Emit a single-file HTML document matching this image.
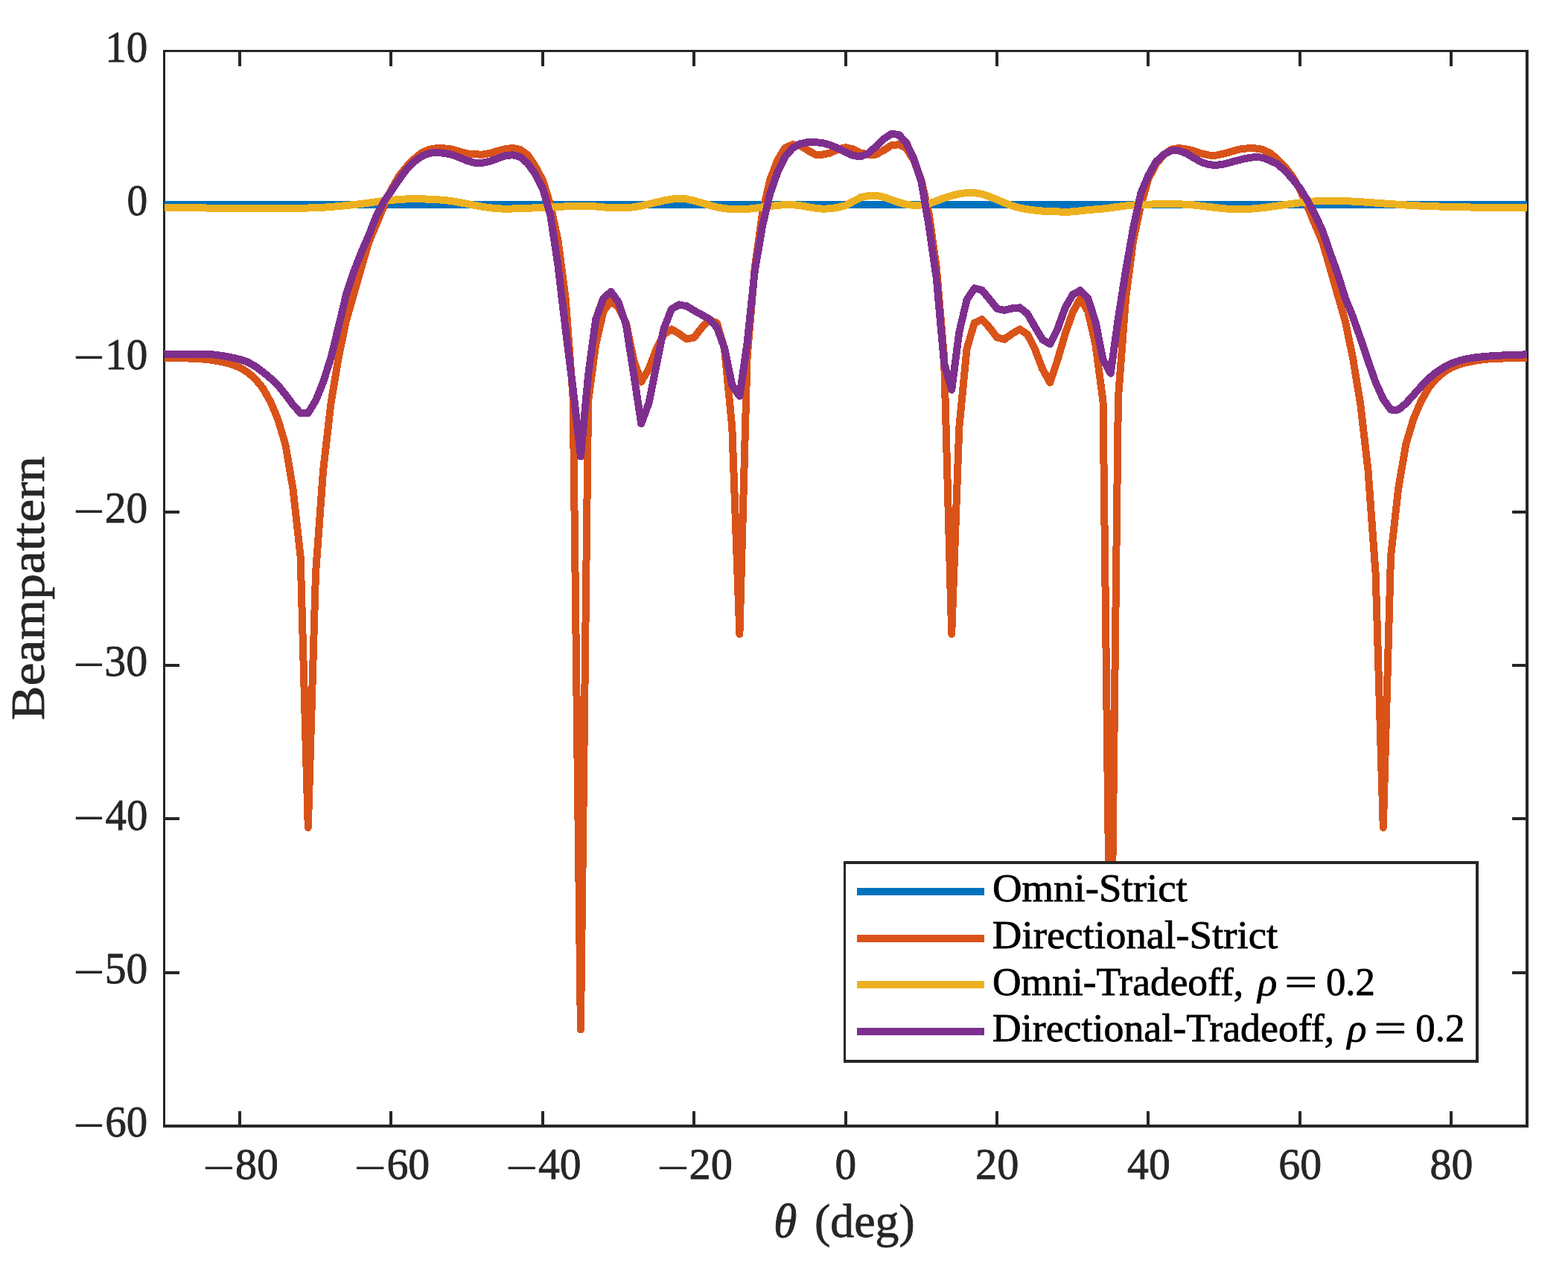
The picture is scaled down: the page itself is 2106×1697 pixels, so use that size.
<!DOCTYPE html>
<html lang="en"><head><meta charset="utf-8"><title>Beampattern</title>
<style>
html,body{margin:0;padding:0;background:#fff;}
body{width:2106px;height:1697px;overflow:hidden;}
svg{display:block;}
text{font-family:"Liberation Serif", "DejaVu Serif", serif;fill:#262626;}
.curve{fill:none;stroke-width:10.0;stroke-linejoin:round;stroke-linecap:butt;}
.ax rect{fill:#262626;}
</style></head><body>
<svg xmlns="http://www.w3.org/2000/svg" width="2106" height="1697" viewBox="0 0 2106 1697">
<rect x="0" y="0" width="2106" height="1697" fill="#ffffff"/>
<defs><clipPath id="clip"><rect x="220" y="70" width="1831" height="1441"/></clipPath></defs>

<g class="ax" shape-rendering="crispEdges">
<rect x="219" y="67" width="3" height="1448"/>
<rect x="2049" y="67" width="4" height="1448"/>
<rect x="219" y="67" width="1834" height="3"/>
<rect x="219" y="1511" width="1834" height="4"/>
<rect x="320" y="1493" width="4" height="22"/>
<rect x="320" y="67" width="4" height="22"/>
<rect x="523" y="1493" width="4" height="22"/>
<rect x="523" y="67" width="4" height="22"/>
<rect x="727" y="1493" width="4" height="22"/>
<rect x="727" y="67" width="4" height="22"/>
<rect x="930" y="1493" width="4" height="22"/>
<rect x="930" y="67" width="4" height="22"/>
<rect x="1134" y="1493" width="4" height="22"/>
<rect x="1134" y="67" width="4" height="22"/>
<rect x="1337" y="1493" width="4" height="22"/>
<rect x="1337" y="67" width="4" height="22"/>
<rect x="1540" y="1493" width="4" height="22"/>
<rect x="1540" y="67" width="4" height="22"/>
<rect x="1744" y="1493" width="4" height="22"/>
<rect x="1744" y="67" width="4" height="22"/>
<rect x="1947" y="1493" width="4" height="22"/>
<rect x="1947" y="67" width="4" height="22"/>
<rect x="219" y="1305" width="22" height="4"/>
<rect x="2031" y="1305" width="22" height="4"/>
<rect x="219" y="1098" width="22" height="4"/>
<rect x="2031" y="1098" width="22" height="4"/>
<rect x="219" y="892" width="22" height="4"/>
<rect x="2031" y="892" width="22" height="4"/>
<rect x="219" y="686" width="22" height="4"/>
<rect x="2031" y="686" width="22" height="4"/>
<rect x="219" y="479" width="22" height="4"/>
<rect x="2031" y="479" width="22" height="4"/>
<rect x="219" y="273" width="22" height="4"/>
<rect x="2031" y="273" width="22" height="4"/>
</g>
<g clip-path="url(#clip)" shape-rendering="crispEdges">
<polyline class="curve" stroke="#0072BD" points="220.6,275.1 230.8,275.1 240.9,275.1 251.1,275.1 261.3,275.1 271.4,275.1 281.6,275.1 291.8,275.1 302.0,275.1 312.1,275.1 322.3,275.1 332.5,275.1 342.6,275.1 352.8,275.1 363.0,275.1 373.1,275.1 383.3,275.1 393.5,275.1 403.6,275.1 413.8,275.1 424.0,275.1 434.1,275.1 444.3,275.1 454.5,275.1 464.7,275.1 474.8,275.1 485.0,275.1 495.2,275.1 505.3,275.1 515.5,275.1 525.7,275.1 535.8,275.1 546.0,275.1 556.2,275.1 566.3,275.1 576.5,275.1 586.7,275.1 596.8,275.1 607.0,275.1 617.2,275.1 627.4,275.1 637.5,275.1 647.7,275.1 657.9,275.1 668.0,275.1 678.2,275.1 688.4,275.1 698.5,275.1 708.7,275.1 718.9,275.1 729.0,275.1 739.2,275.1 749.4,275.1 759.6,275.1 769.7,275.1 779.9,275.1 790.1,275.1 800.2,275.1 810.4,275.1 820.6,275.1 830.7,275.1 840.9,275.1 851.1,275.1 861.2,275.1 871.4,275.1 881.6,275.1 891.7,275.1 901.9,275.1 912.1,275.1 922.3,275.1 932.4,275.1 942.6,275.1 952.8,275.1 962.9,275.1 973.1,275.1 983.3,275.1 993.4,275.1 1003.6,275.1 1013.8,275.1 1023.9,275.1 1034.1,275.1 1044.3,275.1 1054.4,275.1 1064.6,275.1 1074.8,275.1 1085.0,275.1 1095.1,275.1 1105.3,275.1 1115.5,275.1 1125.6,275.1 1135.8,275.1 1146.0,275.1 1156.1,275.1 1166.3,275.1 1176.5,275.1 1186.6,275.1 1196.8,275.1 1207.0,275.1 1217.2,275.1 1227.3,275.1 1237.5,275.1 1247.7,275.1 1257.8,275.1 1268.0,275.1 1278.2,275.1 1288.3,275.1 1298.5,275.1 1308.7,275.1 1318.8,275.1 1329.0,275.1 1339.2,275.1 1349.3,275.1 1359.5,275.1 1369.7,275.1 1379.9,275.1 1390.0,275.1 1400.2,275.1 1410.4,275.1 1420.5,275.1 1430.7,275.1 1440.9,275.1 1451.0,275.1 1461.2,275.1 1471.4,275.1 1481.5,275.1 1491.7,275.1 1501.9,275.1 1512.0,275.1 1522.2,275.1 1532.4,275.1 1542.6,275.1 1552.7,275.1 1562.9,275.1 1573.1,275.1 1583.2,275.1 1593.4,275.1 1603.6,275.1 1613.7,275.1 1623.9,275.1 1634.1,275.1 1644.2,275.1 1654.4,275.1 1664.6,275.1 1674.8,275.1 1684.9,275.1 1695.1,275.1 1705.3,275.1 1715.4,275.1 1725.6,275.1 1735.8,275.1 1745.9,275.1 1756.1,275.1 1766.3,275.1 1776.4,275.1 1786.6,275.1 1796.8,275.1 1806.9,275.1 1817.1,275.1 1827.3,275.1 1837.5,275.1 1847.6,275.1 1857.8,275.1 1868.0,275.1 1878.1,275.1 1888.3,275.1 1898.5,275.1 1908.6,275.1 1918.8,275.1 1929.0,275.1 1939.1,275.1 1949.3,275.1 1959.5,275.1 1969.6,275.1 1979.8,275.1 1990.0,275.1 2000.2,275.1 2010.3,275.1 2020.5,275.1 2030.7,275.1 2040.8,275.1 2051.0,275.1"/>
<polyline class="curve" stroke="#D95319" points="220.6,480.8 230.8,480.9 240.9,481.1 251.1,481.4 261.3,481.9 271.4,482.4 281.6,483.4 291.8,485.0 302.0,487.0 312.1,489.8 322.3,493.8 332.5,500.2 342.6,508.8 352.8,521.2 363.0,539.2 373.1,562.9 383.3,596.9 393.5,656.8 403.6,747.5 413.8,1112.0 424.0,770.2 434.1,632.0 444.3,543.3 454.5,481.4 464.7,431.9 474.8,396.8 485.0,360.9 495.2,325.6 505.3,301.9 515.5,277.2 525.7,254.5 535.8,236.9 546.0,224.1 556.2,213.6 566.3,205.4 576.5,200.8 586.7,199.2 596.8,199.4 607.0,200.6 617.2,203.5 627.4,206.4 637.5,207.4 647.7,207.6 657.9,206.0 668.0,202.9 678.2,200.4 688.4,199.0 698.5,200.8 708.7,208.1 718.9,223.5 729.0,242.1 739.2,275.1 749.4,322.5 759.6,400.9 769.7,535.0 779.9,1383.5 790.1,539.2 800.2,462.8 810.4,418.5 820.6,404.0 830.7,413.3 840.9,434.0 851.1,483.5 861.2,513.0 871.4,495.8 881.6,469.0 891.7,449.2 901.9,442.4 912.1,448.4 922.3,455.6 932.4,453.5 942.6,440.1 952.8,429.8 962.9,434.0 973.1,469.0 983.3,574.2 993.4,851.9 1003.6,479.3 1013.8,359.7 1023.9,287.5 1034.1,242.1 1044.3,215.3 1054.4,198.8 1064.6,194.2 1074.8,195.5 1085.0,202.1 1095.1,207.6 1105.3,207.6 1115.5,205.4 1125.6,200.4 1135.8,198.2 1146.0,200.4 1156.1,205.4 1166.3,207.6 1176.5,207.6 1186.6,202.1 1196.8,195.5 1207.0,194.2 1217.2,198.8 1227.3,215.3 1237.5,242.1 1247.7,287.5 1257.8,359.7 1268.0,479.3 1278.2,851.9 1288.3,574.2 1298.5,469.0 1308.7,434.0 1318.8,429.0 1329.0,440.1 1339.2,453.5 1349.3,455.8 1359.5,448.4 1369.7,442.4 1379.9,449.2 1390.0,469.0 1400.2,495.8 1410.4,514.0 1420.5,483.5 1430.7,448.4 1440.9,419.5 1451.0,400.9 1461.2,418.5 1471.4,462.8 1481.5,539.2 1491.7,1383.5 1501.9,535.0 1512.0,400.9 1522.2,322.5 1532.4,275.1 1542.6,240.0 1552.7,220.4 1562.9,208.1 1573.1,200.8 1583.2,199.0 1593.4,200.4 1603.6,202.9 1613.7,206.4 1623.9,208.5 1634.1,208.5 1644.2,206.4 1654.4,203.5 1664.6,200.6 1674.8,199.4 1684.9,199.2 1695.1,200.8 1705.3,205.4 1715.4,213.6 1725.6,224.1 1735.8,236.9 1745.9,254.5 1756.1,277.2 1766.3,301.9 1776.4,325.6 1786.6,360.9 1796.8,396.8 1806.9,431.9 1817.1,481.4 1827.3,543.3 1837.5,632.0 1847.6,770.2 1857.8,1112.0 1868.0,747.5 1878.1,656.8 1888.3,596.9 1898.5,562.9 1908.6,539.2 1918.8,521.2 1929.0,508.8 1939.1,500.2 1949.3,493.8 1959.5,489.8 1969.6,487.0 1979.8,485.0 1990.0,483.4 2000.2,482.4 2010.3,481.9 2020.5,481.4 2030.7,481.1 2040.8,480.9 2051.0,480.8"/>
<polyline class="curve" stroke="#EDB120" points="220.6,279.0 230.8,279.1 240.9,279.2 251.1,279.2 261.3,279.3 271.4,279.4 281.6,279.6 291.8,279.7 302.0,279.8 312.1,280.0 322.3,280.1 332.5,280.1 342.6,280.2 352.8,280.2 363.0,280.2 373.1,280.3 383.3,280.2 393.5,280.1 403.6,279.8 413.8,279.5 424.0,279.2 434.1,278.7 444.3,278.0 454.5,277.1 464.7,276.1 474.8,275.1 485.0,274.0 495.2,272.6 505.3,271.2 515.5,269.9 525.7,268.9 535.8,268.1 546.0,267.4 556.2,267.1 566.3,267.3 576.5,267.7 586.7,268.2 596.8,268.9 607.0,270.2 617.2,272.0 627.4,273.9 637.5,275.8 647.7,277.8 657.9,279.2 668.0,280.2 678.2,280.7 688.4,280.5 698.5,280.3 708.7,279.9 718.9,279.3 729.0,278.8 739.2,278.3 749.4,277.8 759.6,277.4 769.7,277.0 779.9,276.8 790.1,276.9 800.2,277.4 810.4,278.4 820.6,279.2 830.7,279.2 840.9,279.2 851.1,278.3 861.2,276.5 871.4,274.3 881.6,271.8 891.7,269.5 901.9,267.7 912.1,266.6 922.3,267.5 932.4,269.7 942.6,272.6 952.8,275.7 962.9,278.4 973.1,280.2 983.3,281.1 993.4,281.0 1003.6,280.9 1013.8,279.9 1023.9,278.4 1034.1,277.1 1044.3,275.9 1054.4,275.1 1064.6,275.1 1074.8,276.2 1085.0,278.0 1095.1,279.7 1105.3,280.7 1115.5,280.3 1125.6,278.6 1135.8,276.1 1146.0,270.6 1156.1,265.2 1166.3,263.1 1176.5,262.9 1186.6,264.6 1196.8,268.3 1207.0,271.8 1217.2,274.7 1227.3,275.9 1237.5,275.5 1247.7,273.7 1257.8,269.9 1268.0,266.2 1278.2,262.9 1288.3,260.5 1298.5,259.0 1308.7,259.0 1318.8,260.7 1329.0,264.2 1339.2,268.3 1349.3,272.6 1359.5,276.5 1369.7,279.4 1379.9,281.3 1390.0,282.6 1400.2,283.6 1410.4,284.0 1420.5,284.4 1430.7,284.8 1440.9,284.4 1451.0,283.3 1461.2,282.1 1471.4,281.3 1481.5,280.5 1491.7,279.2 1501.9,277.8 1512.0,276.5 1522.2,275.5 1532.4,275.0 1542.6,274.7 1552.7,274.3 1562.9,274.1 1573.1,274.1 1583.2,274.3 1593.4,274.7 1603.6,275.5 1613.7,276.7 1623.9,278.0 1634.1,279.2 1644.2,280.3 1654.4,281.0 1664.6,281.3 1674.8,281.0 1684.9,280.3 1695.1,279.3 1705.3,278.0 1715.4,276.6 1725.6,275.1 1735.8,273.7 1745.9,272.4 1756.1,271.2 1766.3,270.4 1776.4,269.9 1786.6,269.7 1796.8,269.9 1806.9,270.1 1817.1,270.6 1827.3,271.2 1837.5,271.9 1847.6,272.6 1857.8,273.4 1868.0,274.1 1878.1,274.8 1888.3,275.5 1898.5,276.1 1908.6,276.6 1918.8,277.0 1929.0,277.4 1939.1,277.7 1949.3,278.0 1959.5,278.2 1969.6,278.4 1979.8,278.6 1990.0,278.8 2000.2,278.8 2010.3,278.8 2020.5,278.8 2030.7,278.8 2040.8,278.8 2051.0,278.8"/>
<polyline class="curve" stroke="#7E2F8E" points="220.6,476.4 230.8,476.0 240.9,475.8 251.1,475.7 261.3,475.6 271.4,475.6 281.6,476.0 291.8,477.0 302.0,478.6 312.1,480.6 322.3,482.8 332.5,486.4 342.6,492.1 352.8,499.5 363.0,508.0 373.1,517.3 383.3,530.0 393.5,543.9 403.6,555.0 413.8,555.0 424.0,538.3 434.1,513.4 444.3,481.2 454.5,440.1 464.7,396.8 474.8,365.9 485.0,339.9 495.2,316.4 505.3,290.6 515.5,271.4 525.7,256.3 535.8,241.5 546.0,227.7 556.2,217.3 566.3,210.1 576.5,205.8 586.7,205.0 596.8,205.8 607.0,207.8 617.2,211.6 627.4,215.9 637.5,218.8 647.7,219.0 657.9,216.7 668.0,213.0 678.2,209.3 688.4,208.3 698.5,210.7 708.7,219.4 718.9,233.8 729.0,253.4 739.2,288.7 749.4,356.2 759.6,442.2 769.7,522.7 779.9,613.4 790.1,503.9 800.2,429.2 810.4,400.7 820.6,391.9 830.7,406.1 840.9,436.8 851.1,502.0 861.2,569.3 871.4,541.8 881.6,490.7 891.7,441.2 901.9,415.4 912.1,409.4 922.3,411.3 932.4,417.4 942.6,423.0 952.8,428.8 962.9,440.1 973.1,467.8 983.3,517.5 993.4,532.4 1003.6,460.8 1013.8,363.8 1023.9,304.4 1034.1,260.7 1044.3,231.8 1054.4,210.7 1064.6,199.0 1074.8,193.2 1085.0,191.1 1095.1,191.1 1105.3,192.2 1115.5,195.1 1125.6,199.4 1135.8,204.3 1146.0,209.1 1156.1,210.3 1166.3,206.0 1176.5,196.9 1186.6,187.0 1196.8,180.0 1207.0,180.8 1217.2,191.8 1227.3,213.2 1237.5,244.2 1247.7,304.0 1257.8,374.1 1268.0,487.6 1278.2,523.7 1288.3,446.3 1298.5,403.0 1308.7,387.3 1318.8,389.8 1329.0,402.0 1339.2,414.8 1349.3,416.8 1359.5,414.4 1369.7,413.3 1379.9,421.6 1390.0,439.1 1400.2,456.2 1410.4,462.2 1420.5,441.8 1430.7,413.3 1440.9,395.8 1451.0,390.2 1461.2,400.9 1471.4,432.3 1481.5,483.1 1491.7,501.6 1501.9,427.8 1512.0,363.8 1522.2,305.8 1532.4,259.4 1542.6,235.3 1552.7,217.3 1562.9,207.6 1573.1,202.3 1583.2,202.3 1593.4,206.0 1603.6,212.2 1613.7,218.0 1623.9,221.3 1634.1,221.9 1644.2,220.4 1654.4,217.7 1664.6,214.9 1674.8,212.6 1684.9,211.1 1695.1,211.6 1705.3,215.5 1715.4,220.2 1725.6,228.9 1735.8,240.2 1745.9,252.8 1756.1,269.5 1766.3,288.5 1776.4,310.2 1786.6,339.9 1796.8,368.3 1806.9,400.7 1817.1,425.7 1827.3,454.6 1837.5,485.1 1847.6,513.6 1857.8,536.3 1868.0,550.5 1878.1,550.5 1888.3,542.1 1898.5,530.7 1908.6,519.4 1918.8,508.8 1929.0,500.2 1939.1,493.6 1949.3,488.4 1959.5,484.8 1969.6,482.2 1979.8,480.6 1990.0,479.4 2000.2,478.5 2010.3,477.9 2020.5,477.3 2030.7,476.9 2040.8,476.6 2051.0,476.4"/>
</g>
<g class="ax" shape-rendering="crispEdges"><rect x="2051" y="67" width="2" height="1448"/></g>
<g shape-rendering="crispEdges">
<rect x="1133" y="1157" width="853" height="271" fill="#262626"/>
<rect x="1136" y="1161" width="846" height="263" fill="#ffffff"/>
<rect x="1151" y="1193" width="170.5" height="10" fill="#0072BD"/>
<rect x="1151" y="1256" width="170.5" height="10" fill="#D95319"/>
<rect x="1151" y="1318" width="170.5" height="10" fill="#EDB120"/>
<rect x="1151" y="1381" width="170.5" height="10" fill="#7E2F8E"/>
</g>
<g>
<text transform="translate(271.98,1590.70) scale(1.3352,1.1333)" style="font-size:58.33px;fill:#262626;">−</text>
<text transform="translate(316.00,1584.30) scale(0.9927,1.0250)" style="font-size:58.33px;fill:#262626;stroke:#262626;stroke-width:0.8px;">80</text>
<text transform="translate(475.36,1590.70) scale(1.3352,1.1333)" style="font-size:58.33px;fill:#262626;">−</text>
<text transform="translate(519.38,1584.30) scale(0.9927,1.0250)" style="font-size:58.33px;fill:#262626;stroke:#262626;stroke-width:0.8px;">60</text>
<text transform="translate(678.74,1590.70) scale(1.3352,1.1333)" style="font-size:58.33px;fill:#262626;">−</text>
<text transform="translate(722.94,1584.30) scale(0.9895,1.0250)" style="font-size:58.33px;fill:#262626;stroke:#262626;stroke-width:0.8px;">40</text>
<text transform="translate(882.12,1590.70) scale(1.3352,1.1333)" style="font-size:58.33px;fill:#262626;">−</text>
<text transform="translate(925.58,1584.30) scale(1.0026,1.0250)" style="font-size:58.33px;fill:#262626;stroke:#262626;stroke-width:0.8px;">20</text>
<text transform="translate(1121.52,1584.30) scale(0.9846,1.0250)" style="font-size:58.33px;fill:#262626;stroke:#262626;stroke-width:0.8px;">0</text>
<text transform="translate(1309.92,1584.30) scale(1.0026,1.0250)" style="font-size:58.33px;fill:#262626;stroke:#262626;stroke-width:0.8px;">20</text>
<text transform="translate(1514.03,1584.30) scale(0.9895,1.0250)" style="font-size:58.33px;fill:#262626;stroke:#262626;stroke-width:0.8px;">40</text>
<text transform="translate(1717.23,1584.30) scale(0.9927,1.0250)" style="font-size:58.33px;fill:#262626;stroke:#262626;stroke-width:0.8px;">60</text>
<text transform="translate(1920.61,1584.30) scale(0.9927,1.0250)" style="font-size:58.33px;fill:#262626;stroke:#262626;stroke-width:0.8px;">80</text>
<text transform="translate(97.94,1536.80) scale(1.3019,1.2667)" style="font-size:58.33px;fill:#262626;">−</text>
<text transform="translate(141.37,1527.20) scale(0.9774,1.0250)" style="font-size:58.33px;fill:#262626;stroke:#262626;stroke-width:0.8px;">60</text>
<text transform="translate(97.94,1330.50) scale(1.3019,1.2667)" style="font-size:58.33px;fill:#262626;">−</text>
<text transform="translate(140.83,1320.90) scale(0.9870,1.0250)" style="font-size:58.33px;fill:#262626;stroke:#262626;stroke-width:0.8px;">50</text>
<text transform="translate(97.94,1124.20) scale(1.3019,1.2667)" style="font-size:58.33px;fill:#262626;">−</text>
<text transform="translate(141.53,1114.60) scale(0.9745,1.0250)" style="font-size:58.33px;fill:#262626;stroke:#262626;stroke-width:0.8px;">40</text>
<text transform="translate(97.94,917.90) scale(1.3019,1.2667)" style="font-size:58.33px;fill:#262626;">−</text>
<text transform="translate(140.33,908.30) scale(0.9959,1.0250)" style="font-size:58.33px;fill:#262626;stroke:#262626;stroke-width:0.8px;">30</text>
<text transform="translate(97.94,711.60) scale(1.3019,1.2667)" style="font-size:58.33px;fill:#262626;">−</text>
<text transform="translate(140.83,702.00) scale(0.9870,1.0250)" style="font-size:58.33px;fill:#262626;stroke:#262626;stroke-width:0.8px;">20</text>
<text transform="translate(97.94,505.30) scale(1.3019,1.2667)" style="font-size:58.33px;fill:#262626;">−</text>
<text transform="translate(141.16,495.70) scale(0.9811,1.0250)" style="font-size:58.33px;fill:#262626;stroke:#262626;stroke-width:0.8px;">10</text>
<text transform="translate(170.41,289.40) scale(0.9516,1.0250)" style="font-size:58.33px;fill:#262626;stroke:#262626;stroke-width:0.8px;">0</text>
<text transform="translate(141.16,83.10) scale(0.9811,1.0250)" style="font-size:58.33px;fill:#262626;stroke:#262626;stroke-width:0.8px;">10</text>
<text transform="translate(1039.01,1662.10) scale(0.9963,1.0000)" style="font-size:64.2px;fill:#262626;stroke:#262626;stroke-width:0.8px;font-style:italic;">θ</text>
<text transform="translate(1094.02,1662.10) scale(0.9938,1.0000)" style="font-size:64.2px;fill:#262626;stroke:#262626;stroke-width:0.8px;">(deg)</text>
<text transform="translate(1332.91,1210.70) scale(1.0438,1.0000)" style="font-size:52.5px;fill:#000;stroke:#000;stroke-width:0.8px;">Omni-Strict</text>
<text transform="translate(1332.86,1273.60) scale(1.0440,1.0000)" style="font-size:52.5px;fill:#000;stroke:#000;stroke-width:0.8px;">Directional-Strict</text>
<text transform="translate(1332.96,1336.50) scale(1.0187,1.0000)" style="font-size:52.5px;fill:#000;stroke:#000;stroke-width:0.8px;">Omni-Tradeoff,</text>
<text transform="translate(1689.13,1336.50) scale(1.0320,1.0000)" style="font-size:52.5px;fill:#000;stroke:#000;stroke-width:0.8px;font-style:italic;">ρ</text>
<text transform="translate(1725.14,1336.50) scale(1.4875,1.0000)" style="font-size:52.5px;fill:#000;stroke:#000;stroke-width:0.8px;">=</text>
<text transform="translate(1780.89,1336.50) scale(1.0049,1.0000)" style="font-size:52.5px;fill:#000;stroke:#000;stroke-width:0.8px;">0.2</text>
<text transform="translate(1332.87,1399.40) scale(1.0266,1.0000)" style="font-size:52.5px;fill:#000;stroke:#000;stroke-width:0.8px;">Directional-Tradeoff,</text>
<text transform="translate(1809.43,1399.40) scale(1.0320,1.0000)" style="font-size:52.5px;fill:#000;stroke:#000;stroke-width:0.8px;font-style:italic;">ρ</text>
<text transform="translate(1845.56,1399.40) scale(1.4792,1.0000)" style="font-size:52.5px;fill:#000;stroke:#000;stroke-width:0.8px;">=</text>
<text transform="translate(1901.29,1399.40) scale(1.0066,1.0000)" style="font-size:52.5px;fill:#000;stroke:#000;stroke-width:0.8px;">0.2</text>
<text transform="translate(58.9,790.3) rotate(-90) scale(1.0816,1)" text-anchor="middle" style="font-size:64.2px;stroke:#262626;stroke-width:0.8px">Beampattern</text>
</g>
</svg></body></html>
